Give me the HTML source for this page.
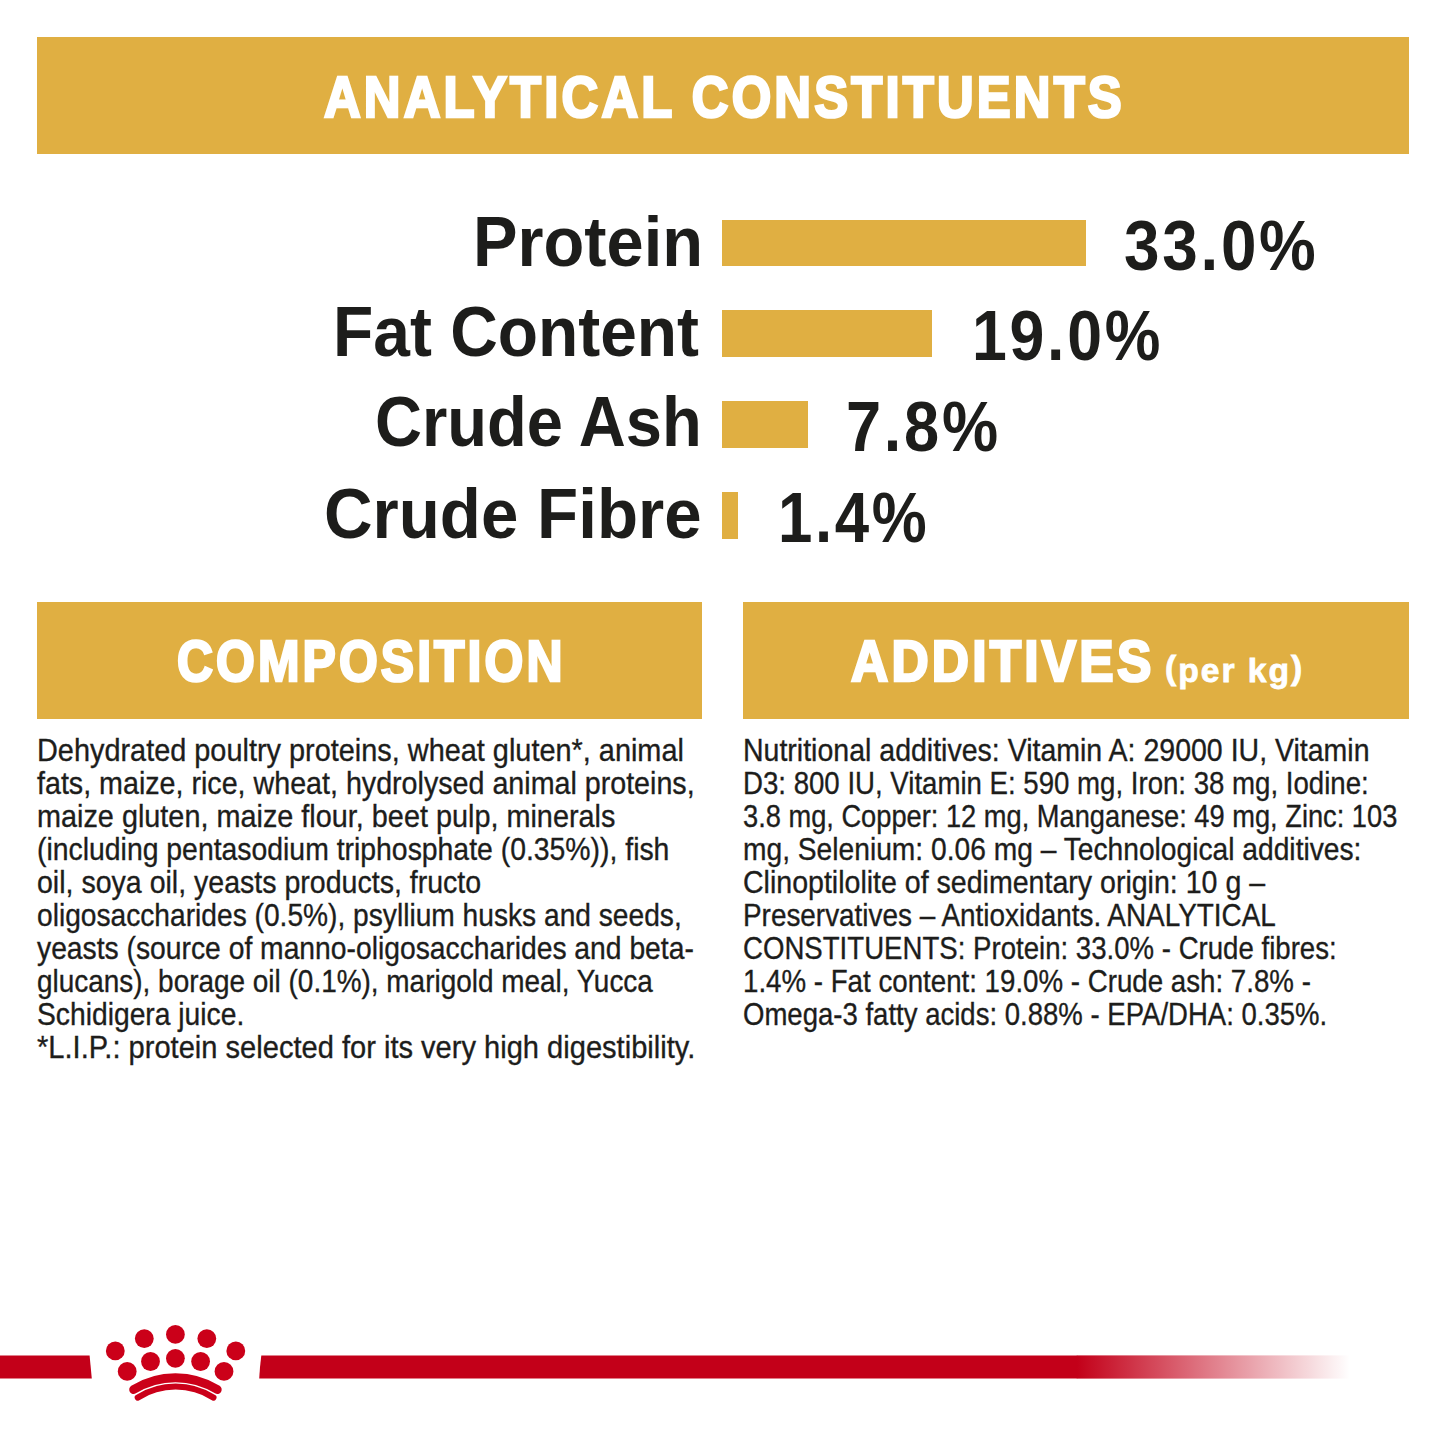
<!DOCTYPE html><html><head><meta charset="utf-8"><title>Analytical constituents</title><style>html,body{margin:0;padding:0;background:#fff;}body{width:1445px;height:1445px;position:relative;overflow:hidden;font-family:"Liberation Sans",sans-serif;}.t{position:absolute;white-space:nowrap;line-height:1;transform-origin:0 0;}.bx{position:absolute;background:#E0AF42;}</style></head><body><div class="bx" style="left:37px;top:37px;width:1372px;height:117px"></div><div class="bx" style="left:37px;top:602px;width:665px;height:117px"></div><div class="bx" style="left:743px;top:602px;width:666px;height:117px"></div><div class="bx" style="left:722px;top:220px;width:364px;height:46px"></div><div class="bx" style="left:722px;top:310px;width:210px;height:47px"></div><div class="bx" style="left:722px;top:401px;width:86px;height:47px"></div><div class="bx" style="left:722px;top:492px;width:16px;height:47px"></div><svg style="position:absolute;left:0;top:1300px" width="1445" height="145" viewBox="0 1300 1445 145">
<defs><linearGradient id="fade" gradientUnits="userSpaceOnUse" x1="1077" y1="0" x2="1350" y2="0"><stop offset="0" stop-color="#C30019"/><stop offset="1" stop-color="#C30019" stop-opacity="0"/></linearGradient></defs>
<path d="M0 1355.4H89.6L91.8 1378.6H0Z" fill="#C30019"/>
<path d="M261.3 1355.4H1077.2V1378.6H259.2Q259.9 1366 261.3 1355.4Z" fill="#C30019"/>
<rect x="1076.8" y="1355.4" width="273.2" height="23.2" fill="url(#fade)"/>
<g fill="#CB0019">
<circle cx="115.3" cy="1350.9" r="9.4"/><circle cx="144.3" cy="1338.6" r="9.4"/><circle cx="175.4" cy="1334.4" r="9.4"/><circle cx="206.8" cy="1338.6" r="9.4"/><circle cx="235.8" cy="1350.9" r="9.4"/>
<circle cx="127.2" cy="1371.4" r="9.4"/><circle cx="150.5" cy="1361.5" r="9.4"/><circle cx="175.4" cy="1358.3" r="9.4"/><circle cx="200.6" cy="1361.5" r="9.4"/><circle cx="224" cy="1371.4" r="9.4"/>
</g>
<g fill="none" stroke="#CB0019" stroke-linecap="round">
<path d="M133.6 1389.6A79.7 79.7 0 0 1 217.3 1389.6" stroke-width="8.8"/>
<path d="M137.7 1397.6A70.6 70.6 0 0 1 213.5 1397.6" stroke-width="6"/>
</g>
</svg>
<div class="t" style="left:324.10px;top:69.76px;font-size:56.50px;font-weight:700;color:#fff;letter-spacing:3.50px;-webkit-text-stroke:2.60px #fff;transform:scaleX(0.8995)">ANALYTICAL CONSTITUENTS</div><div class="t" style="left:177.29px;top:634.36px;font-size:56.50px;font-weight:700;color:#fff;letter-spacing:3.50px;-webkit-text-stroke:2.60px #fff;transform:scaleX(0.8824)">COMPOSITION</div><div class="t" style="left:851.47px;top:634.16px;font-size:56.50px;font-weight:700;color:#fff;letter-spacing:3.50px;-webkit-text-stroke:2.60px #fff;transform:scaleX(0.9116)">ADDITIVES</div><div class="t" style="left:1164.97px;top:653.21px;font-size:34.00px;font-weight:700;color:#fff;letter-spacing:2.00px;-webkit-text-stroke:0.80px #fff;transform:scaleX(0.9898)"><span style="position:relative;top:-3px">(</span>per kg<span style="position:relative;top:-3px">)</span></div><div class="t" style="left:472.61px;top:206.53px;font-size:70.00px;font-weight:700;color:#1d1d1b;transform:scaleX(0.9543)">Protein</div><div class="t" style="left:333.08px;top:297.33px;font-size:70.00px;font-weight:700;color:#1d1d1b;transform:scaleX(0.9413)">Fat Content</div><div class="t" style="left:374.99px;top:386.73px;font-size:70.00px;font-weight:700;color:#1d1d1b;transform:scaleX(0.9297)">Crude Ash</div><div class="t" style="left:324.12px;top:478.73px;font-size:70.00px;font-weight:700;color:#1d1d1b;transform:scaleX(0.9612)">Crude Fibre</div><div class="t" style="left:1123.98px;top:210.73px;font-size:70.00px;font-weight:700;color:#1d1d1b;letter-spacing:3.00px;transform:scaleX(0.9115)">33.0%</div><div class="t" style="left:972.42px;top:300.93px;font-size:70.00px;font-weight:700;color:#1d1d1b;letter-spacing:3.00px;transform:scaleX(0.8950)">19.0%</div><div class="t" style="left:845.94px;top:391.93px;font-size:70.00px;font-weight:700;color:#1d1d1b;letter-spacing:3.00px;transform:scaleX(0.9023)">7.8%</div><div class="t" style="left:778.49px;top:482.73px;font-size:70.00px;font-weight:700;color:#1d1d1b;letter-spacing:3.00px;transform:scaleX(0.8825)">1.4%</div><div class="t" style="left:37.00px;top:734.31px;font-size:32.00px;font-weight:400;color:#1d1d1b;-webkit-text-stroke:0.35px #1d1d1b;transform:scaleX(0.9024)">Dehydrated poultry proteins, wheat gluten*, animal</div><div class="t" style="left:37.00px;top:767.31px;font-size:32.00px;font-weight:400;color:#1d1d1b;-webkit-text-stroke:0.35px #1d1d1b;transform:scaleX(0.8953)">fats, maize, rice, wheat, hydrolysed animal proteins,</div><div class="t" style="left:37.00px;top:800.31px;font-size:32.00px;font-weight:400;color:#1d1d1b;-webkit-text-stroke:0.35px #1d1d1b;transform:scaleX(0.9007)">maize gluten, maize flour, beet pulp, minerals</div><div class="t" style="left:37.00px;top:833.31px;font-size:32.00px;font-weight:400;color:#1d1d1b;-webkit-text-stroke:0.35px #1d1d1b;transform:scaleX(0.8866)">(including pentasodium triphosphate (0.35%)), fish</div><div class="t" style="left:37.00px;top:866.31px;font-size:32.00px;font-weight:400;color:#1d1d1b;-webkit-text-stroke:0.35px #1d1d1b;transform:scaleX(0.8919)">oil, soya oil, yeasts products, fructo</div><div class="t" style="left:37.00px;top:899.31px;font-size:32.00px;font-weight:400;color:#1d1d1b;-webkit-text-stroke:0.35px #1d1d1b;transform:scaleX(0.8798)">oligosaccharides (0.5%), psyllium husks and seeds,</div><div class="t" style="left:37.00px;top:932.31px;font-size:32.00px;font-weight:400;color:#1d1d1b;-webkit-text-stroke:0.35px #1d1d1b;transform:scaleX(0.8834)">yeasts (source of manno-oligosaccharides and beta-</div><div class="t" style="left:37.00px;top:965.31px;font-size:32.00px;font-weight:400;color:#1d1d1b;-webkit-text-stroke:0.35px #1d1d1b;transform:scaleX(0.8729)">glucans), borage oil (0.1%), marigold meal, Yucca</div><div class="t" style="left:37.00px;top:998.31px;font-size:32.00px;font-weight:400;color:#1d1d1b;-webkit-text-stroke:0.35px #1d1d1b;transform:scaleX(0.8827)">Schidigera juice.</div><div class="t" style="left:37.00px;top:1031.31px;font-size:32.00px;font-weight:400;color:#1d1d1b;-webkit-text-stroke:0.35px #1d1d1b;transform:scaleX(0.9085)">*L.I.P.: protein selected for its very high digestibility.</div><div class="t" style="left:743.00px;top:734.31px;font-size:32.00px;font-weight:400;color:#1d1d1b;-webkit-text-stroke:0.35px #1d1d1b;transform:scaleX(0.8910)">Nutritional additives: Vitamin A: 29000 IU, Vitamin</div><div class="t" style="left:743.00px;top:767.31px;font-size:32.00px;font-weight:400;color:#1d1d1b;-webkit-text-stroke:0.35px #1d1d1b;transform:scaleX(0.8629)">D3: 800 IU, Vitamin E: 590 mg, Iron: 38 mg, Iodine:</div><div class="t" style="left:743.00px;top:800.31px;font-size:32.00px;font-weight:400;color:#1d1d1b;-webkit-text-stroke:0.35px #1d1d1b;transform:scaleX(0.8515)">3.8 mg, Copper: 12 mg, Manganese: 49 mg, Zinc: 103</div><div class="t" style="left:743.00px;top:833.31px;font-size:32.00px;font-weight:400;color:#1d1d1b;-webkit-text-stroke:0.35px #1d1d1b;transform:scaleX(0.8809)">mg, Selenium: 0.06 mg – Technological additives:</div><div class="t" style="left:743.00px;top:866.31px;font-size:32.00px;font-weight:400;color:#1d1d1b;-webkit-text-stroke:0.35px #1d1d1b;transform:scaleX(0.8921)">Clinoptilolite of sedimentary origin: 10 g –</div><div class="t" style="left:743.00px;top:899.31px;font-size:32.00px;font-weight:400;color:#1d1d1b;-webkit-text-stroke:0.35px #1d1d1b;transform:scaleX(0.8717)">Preservatives – Antioxidants. ANALYTICAL</div><div class="t" style="left:743.00px;top:932.31px;font-size:32.00px;font-weight:400;color:#1d1d1b;-webkit-text-stroke:0.35px #1d1d1b;transform:scaleX(0.8626)">CONSTITUENTS: Protein: 33.0% - Crude fibres:</div><div class="t" style="left:743.00px;top:965.31px;font-size:32.00px;font-weight:400;color:#1d1d1b;-webkit-text-stroke:0.35px #1d1d1b;transform:scaleX(0.8652)">1.4% - Fat content: 19.0% - Crude ash: 7.8% -</div><div class="t" style="left:743.00px;top:998.31px;font-size:32.00px;font-weight:400;color:#1d1d1b;-webkit-text-stroke:0.35px #1d1d1b;transform:scaleX(0.8607)">Omega-3 fatty acids: 0.88% - EPA/DHA: 0.35%.</div></body></html>
